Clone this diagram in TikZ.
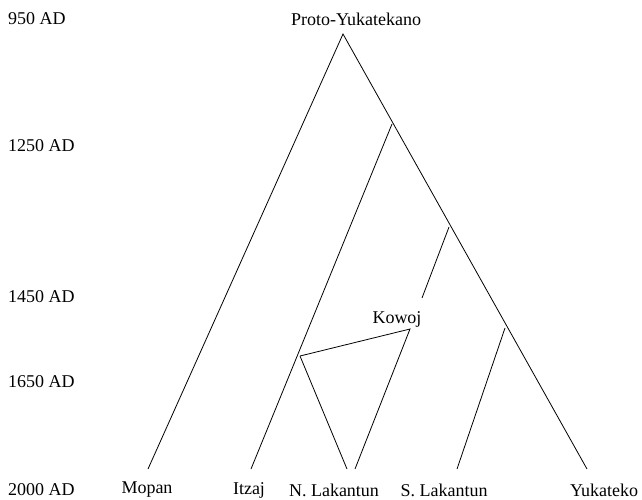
\documentclass[tikz,border=0pt]{standalone}
\usepackage{fontspec}
\setmainfont{Liberation Serif}
\begin{document}
\begin{tikzpicture}[x=1pt,y=-1pt,
  branch/.style={line width=0.8pt, black},
  lbl/.style={font=\fontsize{18}{20}\selectfont, inner sep=0pt},
  datelbl/.style={lbl, anchor=west}]
\useasboundingbox (0,0) rectangle (642,499);
% dates
\node[datelbl] (d950) at (8,19) {950 AD};
\node[datelbl] (d1250) at (8,146) {1250 AD};
\node[datelbl] (d1450) at (8,297) {1450 AD};
\node[datelbl] (d1650) at (8,382) {1650 AD};
\node[datelbl] (d2000) at (8,490) {2000 AD};
% labels
\node[lbl] (proto) at (356,19) {Proto-Yukatekano};
\node[lbl] (mopan) at (147,490) {Mopan};
\node[lbl] (itzaj) at (249,490) {Itzaj};
\node[lbl] (nlak) at (334,490) {N. Lakantun};
\node[lbl] (slak) at (444,490) {S. Lakantun};
\node[lbl] (yuk) at (604,490) {Yukateko};
\node[lbl] (kowojlbl) at (397,319) {Kowoj};
% tree points
\coordinate (root) at (343,34);
\coordinate (n1) at (392,124);
\coordinate (n2) at (449,227);
\coordinate (n3) at (505,328);
\coordinate (kow) at (410,329);
\coordinate (kbreak) at (422,298);
\coordinate (itzn) at (300,356);
\coordinate (emop) at (148,469);
\coordinate (eitz) at (251,469);
\coordinate (enl1) at (347,469);
\coordinate (enl2) at (355,469);
\coordinate (esl) at (457,469);
\coordinate (eyuk) at (587,469);
% branches
\draw[branch] (emop) -- (root) -- (eyuk);
\draw[branch] (n1) -- (eitz);
\draw[branch] (n2) -- (kbreak);
\draw[branch] (n3) -- (esl);
\draw[branch] (itzn) -- (kow) -- (enl2);
\draw[branch] (itzn) -- (enl1);
\end{tikzpicture}
\end{document}
